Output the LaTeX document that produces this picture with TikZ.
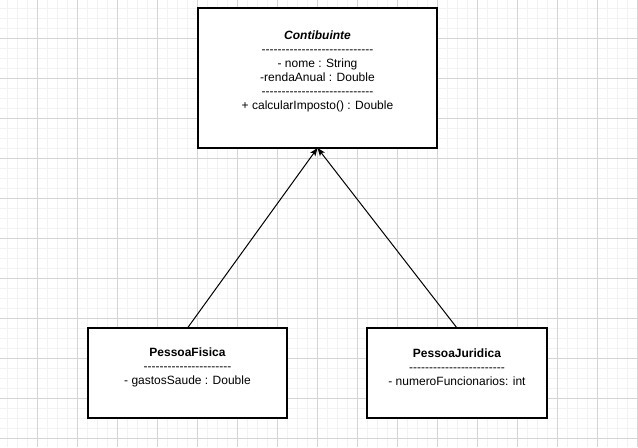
\documentclass[tikz,border=0pt]{standalone}
\usepackage{fontspec}
\newfontfamily\umlfont{Liberation Sans}
\usetikzlibrary{arrows.meta}
\definecolor{gridminor}{HTML}{F2F2F2}
\definecolor{gridmajor}{HTML}{D4D4D4}
\tikzset{
	classbox/.style={draw=black, line width=0.8pt, fill=white, inner sep=0pt, outer sep=0pt},
	classtext/.style={align=center, inner sep=0pt, font=\umlfont\fontsize{9}{10.5}\selectfont},
	inherit/.style={line width=0.75pt, -{Stealth[length=6pt,width=4.6pt,inset=1.4pt]}}
}
\begin{document}
\begin{tikzpicture}[x=0.75pt,y=-0.75pt]
			%%Location
			\useasboundingbox (0,0) rectangle (638,447);
			\fill[white] (0,0) rectangle (638,447);
			%%Grid
			\foreach \i in {0,...,63} \draw[gridminor,line width=0.5pt] (7.5+10*\i,0) -- (7.5+10*\i,447);
			\foreach \j in {0,...,44} \draw[gridminor,line width=0.5pt] (0,8+10*\j) -- (638,8+10*\j);
			\foreach \i in {0,...,15} \draw[gridmajor,line width=0.6pt] (37.5+40*\i,0) -- (37.5+40*\i,447);
			\foreach \j in {0,...,10} \draw[gridmajor,line width=0.6pt] (0,38+40*\j) -- (638,38+40*\j);
			%%Classes
			\node[classbox, minimum width=179.25pt, minimum height=105pt] (contrib) at (317.5,78) {};
			\node[classbox, minimum width=149.25pt, minimum height=67.5pt] (fisica) at (187.5,373) {};
			\node[classbox, minimum width=135pt, minimum height=67.5pt] (juridica) at (457,373) {};
			%%Label
			\node[classtext] (contribtxt) at (317.5,71) {\textbf{\textit{Contibuinte}}\\----------------------------\\- nome : String\\-rendaAnual : Double\\----------------------------\\+ calcularImposto() : Double};
			\node[classtext] (fisicatxt) at (187.5,367) {\textbf{PessoaFisica}\\----------------------\\- gastosSaude : Double};
			\node[classtext] (juridicatxt) at (457,367) {\textbf{PessoaJuridica}\\------------------------\\- numeroFuncionarios: int};
			%%Inheritance
			\draw[inherit] (fisica.north) -- (contrib.south);
			\draw[inherit] (juridica.north) -- (contrib.south);
\end{tikzpicture}
\end{document}
